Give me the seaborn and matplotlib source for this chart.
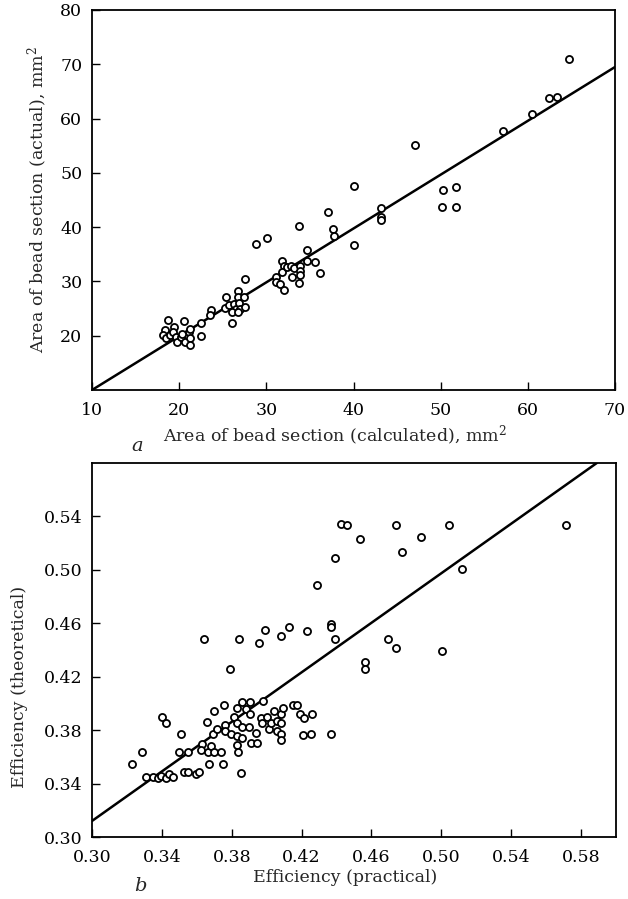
import matplotlib
matplotlib.use("Agg")
import matplotlib.pyplot as plt
import seaborn as sns
import numpy as np
import pandas as pd

# ---------------- data: panel a ----------------
area_calc = [18.7, 18.4, 18.2, 18.5, 18.9, 19.4, 19.3, 19.6, 19.8, 20.2, 20.6, 20.7,
             21.1, 21.3, 21.3, 21.3, 20.3, 22.5, 22.5, 23.6, 23.5,
             25.4, 25.3, 25.7, 26.1, 26.3, 26.5, 26.7, 26.7, 26.9, 27.0, 27.4, 27.5,
             27.5, 26.1, 26.7, 28.8, 30.1,
             31.1, 31.1, 31.6, 31.8, 32.0, 31.8, 32.0, 32.4, 32.8, 32.9, 33.2, 33.9,
             33.9, 33.9, 33.8, 33.8, 34.7, 34.7, 35.6, 36.1, 37.1, 37.7, 37.8,
             40.1, 40.1, 43.1, 43.1, 43.1, 47.1, 50.3, 50.2, 51.8, 51.8,
             57.2, 60.5, 62.4, 63.4, 64.7]
area_actual = [22.9, 21.0, 20.2, 19.5, 20.1, 21.6, 20.7, 19.8, 18.9, 19.8, 22.7, 18.9,
               20.7, 21.3, 19.5, 18.2, 20.4, 22.3, 20.0, 24.8, 23.8,
               27.1, 25.1, 25.6, 22.3, 25.9, 24.9, 28.2, 27.1, 26.1, 25.0, 27.1, 25.3,
               30.5, 24.4, 24.4, 36.9, 38.0,
               30.8, 29.9, 29.6, 33.8, 32.9, 31.7, 28.4, 32.6, 32.9, 30.8, 32.4, 32.9,
               32.0, 31.2, 29.7, 40.2, 35.7, 33.8, 33.5, 31.6, 42.8, 39.6, 38.3,
               47.6, 36.7, 43.6, 41.8, 41.3, 55.2, 46.8, 43.7, 47.4, 43.7,
               57.7, 60.8, 63.8, 64.0, 70.9]
line_a_x = [10, 70]
line_a_y = [10, 69.5]

# ---------------- data: panel b ----------------
eff_practical = [0.3229, 0.3286, 0.3309, 0.3347, 0.3375, 0.3394, 0.3400, 0.3423, 0.3423,
                 0.3442, 0.3461, 0.3509, 0.3499, 0.3528, 0.3547, 0.3547, 0.3594, 0.3613,
                 0.3632, 0.3623, 0.3642, 0.3661, 0.3665, 0.3670, 0.3680, 0.3690, 0.3700,
                 0.3700, 0.3718, 0.3737, 0.3752, 0.3756, 0.3760, 0.3760, 0.3789, 0.3794,
                 0.3813, 0.3832, 0.3832, 0.3832, 0.3832, 0.3836, 0.3842, 0.3851, 0.3860,
                 0.3860, 0.3860, 0.3884, 0.3899, 0.3905, 0.3905, 0.3909, 0.3937, 0.3947,
                 0.3956, 0.3966, 0.3979, 0.3975, 0.3990, 0.4000, 0.4013, 0.4027, 0.4042,
                 0.4057, 0.4061, 0.4080, 0.4080, 0.4084, 0.4084, 0.4084, 0.4095, 0.4128,
                 0.4152, 0.4175, 0.4190, 0.4213, 0.4210, 0.4232, 0.4251, 0.4261, 0.4290,
                 0.4371, 0.4371, 0.4371, 0.4389, 0.4389, 0.4423, 0.4461, 0.4537, 0.4742,
                 0.4775, 0.4885, 0.5044, 0.5120, 0.5711, 0.4693, 0.4742, 0.5003, 0.4562,
                 0.4562]
eff_theoretical = [0.355, 0.364, 0.345, 0.345, 0.344, 0.3455, 0.390, 0.3855, 0.344,
                   0.347, 0.345, 0.3768, 0.364, 0.349, 0.349, 0.364, 0.347, 0.349,
                   0.370, 0.365, 0.4485, 0.386, 0.364, 0.355, 0.3685, 0.377, 0.364,
                   0.394, 0.381, 0.364, 0.355, 0.399, 0.384, 0.3793, 0.4255, 0.377,
                   0.390, 0.3855, 0.3963, 0.3755, 0.369, 0.364, 0.4485, 0.348, 0.382,
                   0.401, 0.374, 0.3955, 0.382, 0.401, 0.392, 0.3705, 0.3775, 0.3705,
                   0.4455, 0.389, 0.4018, 0.3855, 0.4548, 0.390, 0.381, 0.3855, 0.394,
                   0.379, 0.387, 0.4505, 0.392, 0.3855, 0.377, 0.3728, 0.3963, 0.4575,
                   0.399, 0.399, 0.392, 0.389, 0.376, 0.4543, 0.3773, 0.392, 0.489,
                   0.3773, 0.4598, 0.4575, 0.509, 0.4485, 0.534, 0.5338, 0.523, 0.5338,
                   0.513, 0.5248, 0.5338, 0.5005, 0.5338, 0.4485, 0.4418, 0.4393, 0.431,
                   0.4255]
line_b_x = [0.30, 0.589]
line_b_y = [0.312, 0.58]

a_xticks = [10, 20, 30, 40, 50, 60, 70]
a_yticks = [20, 30, 40, 50, 60, 70, 80]
b_xticks = [0.30, 0.34, 0.38, 0.42, 0.46, 0.50, 0.54, 0.58]
b_yticks = [0.30, 0.34, 0.38, 0.42, 0.46, 0.50, 0.54]

# ---------------- style ----------------
sns.set_theme(style="ticks")
plt.rcParams['font.family'] = ['DejaVu Serif']
plt.rcParams['mathtext.fontset'] = 'dejavuserif'
FS = 12.5

fig = plt.figure(figsize=(6.28, 8.99), dpi=100)
ax1 = fig.add_axes([92/628, 1-390/899, 523/628, 380/899])
ax2 = fig.add_axes([92/628, 1-837/899, 524/628, 374/899])

dfa = pd.DataFrame({"x": area_calc, "y": area_actual})
dfb = pd.DataFrame({"x": eff_practical, "y": eff_theoretical})

mk = dict(marker="o", s=26, facecolor="white", edgecolor="black", linewidth=1.3, zorder=3)
sns.scatterplot(data=dfa, x="x", y="y", ax=ax1, **mk)
sns.lineplot(x=line_a_x, y=line_a_y, ax=ax1, color="black", linewidth=1.8, zorder=2)
sns.scatterplot(data=dfb, x="x", y="y", ax=ax2, **mk)
sns.lineplot(x=line_b_x, y=line_b_y, ax=ax2, color="black", linewidth=1.8, zorder=2)

ax1.set_xlim(10, 70)
ax1.set_ylim(10, 80)
ax1.set_xticks(a_xticks)
ax1.set_yticks(a_yticks)
ax1.set_xticklabels([str(t) for t in a_xticks])
ax1.set_yticklabels([str(t) for t in a_yticks])

ax2.set_xlim(0.30, 0.60)
ax2.set_ylim(0.30, 0.58)
ax2.set_xticks(b_xticks)
ax2.set_yticks(b_yticks)
ax2.set_xticklabels([f"{t:.2f}" for t in b_xticks])
ax2.set_yticklabels([f"{t:.2f}" for t in b_yticks])

for ax in (ax1, ax2):
    for sp in ax.spines.values():
        sp.set_visible(True)
        sp.set_linewidth(1.3)
        sp.set_color("black")
    ax.tick_params(direction="in", length=6, width=1.0, labelsize=FS, colors="black")
    ax.tick_params(axis="x", pad=9)
    ax.tick_params(axis="y", pad=7)
    ax.grid(False)

ax1.set_xlabel("Area of bead section (calculated), mm$^2$", fontsize=FS)
ax1.set_ylabel("Area of bead section (actual), mm$^2$", fontsize=FS)
ax1.xaxis.set_label_coords(0.465, -0.088)
ax1.yaxis.set_label_coords(-0.08, 0.5)

ax2.set_xlabel("Efficiency (practical)", fontsize=FS)
ax2.set_ylabel("Efficiency (theoretical)", fontsize=FS)
ax2.xaxis.set_label_coords(0.483, -0.085)
ax2.yaxis.set_label_coords(-0.122, 0.40)

fig.text(137/628, 1-446/899, "a", fontsize=FS + 1.5, style="italic", ha="center", va="center")
fig.text(140/628, 1-886/899, "b", fontsize=FS + 1.5, style="italic", ha="center", va="center")

fig.savefig("out.png", dpi=100, facecolor="white")
